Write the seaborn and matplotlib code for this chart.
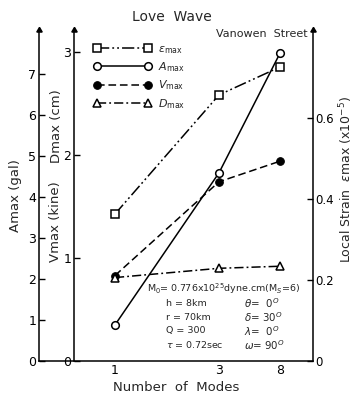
import matplotlib
matplotlib.use("Agg")
import matplotlib.pyplot as plt
import seaborn as sns
import pandas as pd

sns.set_theme(style="white")
plt.rcParams['font.family'] = ['DejaVu Sans']

# ---- data ----
modes = [1, 3, 8]
mode_labels = ["1", "3", "8"]
emax = [0.363, 0.657, 0.726]   # local strain (x1e-5), right axis
amax = [0.88, 4.59, 7.51]      # gal, left axis
vmax = [0.83, 1.74, 1.94]      # kine, inner axis
dmax = [0.81, 0.90, 0.92]      # cm, inner axis

amax_ticks = [0, 1, 2, 3, 4, 5, 6, 7]
vd_ticks = [0, 1, 2, 3]
strain_ticks = [0, 0.2, 0.4, 0.6]
strain_ticklabels = ["0", "0.2", "0.4", "0.6"]

# layout: horizontal placement of the mode categories
mode_pos = [0.0, 1.0, 1.587]

W, H = 354, 395
fig = plt.figure(figsize=(W / 100, H / 100), dpi=100)
L, R, B, T = 39, 313, 361, 30
ax = fig.add_axes([L / W, 1 - B / H, (R - L) / W, (B - T) / H])
ax.set_facecolor("none")
ax2 = ax.twinx()
ax3 = ax.twinx()
for a in (ax2, ax3):
    a.set_facecolor("none")

df = pd.DataFrame({"pos": mode_pos, "emax": emax, "amax": amax,
                   "vmax": vmax, "dmax": dmax})

k = "black"
lw = 1.1
ms = 5.5
sns.lineplot(data=df, x="pos", y="emax", ax=ax3, color=k, lw=lw,
             marker="s", markersize=ms, markerfacecolor="white",
             markeredgecolor=k, markeredgewidth=1.1,
             linestyle=(0, (8, 2, 1.2, 2, 1.2, 2)), label=r"$\varepsilon_{\rm max}$",
             legend=False)
sns.lineplot(data=df, x="pos", y="amax", ax=ax, color=k, lw=lw,
             marker="o", markersize=ms, markerfacecolor="white",
             markeredgecolor=k, markeredgewidth=1.1,
             linestyle="-", label=r"$A_{\rm max}$", legend=False)
sns.lineplot(data=df, x="pos", y="vmax", ax=ax2, color=k, lw=lw,
             marker="o", markersize=ms, markerfacecolor=k,
             markeredgecolor=k, linestyle=(0, (5, 2.5)),
             label=r"$V_{\rm max}$", legend=False)
sns.lineplot(data=df, x="pos", y="dmax", ax=ax2, color=k, lw=lw,
             marker="^", markersize=ms + 0.5, markerfacecolor="white",
             markeredgecolor=k, markeredgewidth=1.1,
             linestyle=(0, (6, 2, 1.2, 2)), label=r"$D_{\rm max}$", legend=False)

# limits
xmin = (L - 115) / 104
xmax = (R - 115) / 104
for a in (ax, ax2, ax3):
    a.set_xlim(xmin, xmax)
ax.set_ylim(0, (B - T) / 41)
ax2.set_ylim(0, (B - T) / 103)
ax3.set_ylim(0, (B - T) / 405)

# spines
for a in (ax, ax2, ax3):
    for s in a.spines.values():
        s.set_visible(False)
        s.set_color(k)
        s.set_linewidth(1.1)
ax.spines["left"].set_visible(True)
ax.spines["bottom"].set_visible(True)
ax2.spines["left"].set_visible(True)
ax2.spines["left"].set_position(("axes", (74 - L) / (R - L)))
ax2.yaxis.set_label_position("left")
ax2.yaxis.set_ticks_position("left")
ax3.spines["right"].set_visible(True)

# ticks
ax.set_xticks(mode_pos)
ax.set_xticklabels(mode_labels)
ax.set_yticks(amax_ticks)
ax2.set_yticks(vd_ticks)
ax3.set_yticks(strain_ticks)
ax3.set_yticklabels(strain_ticklabels)
for a in (ax, ax2, ax3):
    a.tick_params(direction="in", length=4, width=1, colors=k,
                  labelsize=9, pad=2)
ax3.tick_params(labelsize=8.5, pad=1.5)
ax.set_xlabel("Number  of  Modes", fontsize=9.5, labelpad=3)
ax.set_ylabel("")
ax2.set_ylabel("")
ax3.set_ylabel("")
ax2.set_xlabel("")
ax3.set_xlabel("")

# arrow heads on vertical axes
for xf in (0.0, (74 - L) / (R - L), 1.0):
    ax.plot([xf], [1.0], marker=(3, 0, 0), markersize=4.5, color=k,
            transform=ax.transAxes, clip_on=False)

# axis labels as text
def ftext(x, y, s, **kw):
    fig.text(x / W, 1 - y / H, s, **kw)

ftext(16, 196, r"Amax (gal)", rotation=90, ha="center", va="center", fontsize=9.5)
ftext(55, 222, r"Vmax (kine)", rotation=90, ha="center", va="center", fontsize=9.5)
ftext(56, 126, r"Dmax (cm)", rotation=90, ha="center", va="center", fontsize=9.5)
ftext(346, 180, r"Local Strain  $\varepsilon$max (x10$^{-5}$)", rotation=90,
      ha="center", va="center", fontsize=9)

ftext(172, 17, "Love  Wave", ha="center", va="center", fontsize=10)
ftext(262, 34, "Vanowen  Street", ha="center", va="center", fontsize=8)

# parameter block
fs = 6.8
ftext(147, 289, r"M$_0$= 0.776x10$^{25}$dyne.cm(M$_S$=6)", ha="left", va="center", fontsize=fs)
rows_l = ["h = 8km", "r = 70km", "Q = 300", r"$\tau$ = 0.72sec"]
rows_r = [r"$\theta$=  0$^O$", r"$\delta$= 30$^O$", r"$\lambda$=  0$^O$", r"$\omega$= 90$^O$"]
for i, (sl, sr) in enumerate(zip(rows_l, rows_r)):
    y = 303 + i * 14
    ftext(166, y, sl, ha="left", va="center", fontsize=fs)
    ftext(244, y, sr, ha="left", va="center", fontsize=fs + 0.6)

# legend
h1, l1 = ax3.get_legend_handles_labels()
h2, l2 = ax.get_legend_handles_labels()
h3, l3 = ax2.get_legend_handles_labels()
leg = ax.legend(h1 + h2 + h3, l1 + l2 + l3, loc="upper left",
                bbox_to_anchor=((94 - L) / (R - L), (B - 44) / (B - T)),
                frameon=False, fontsize=8, handlelength=5.2, numpoints=2,
                handletextpad=0.6, labelspacing=0.4, borderaxespad=0,
                borderpad=0)
for line in leg.get_lines():
    line.set_linewidth(1.1)

fig.savefig("out.png", dpi=100)
